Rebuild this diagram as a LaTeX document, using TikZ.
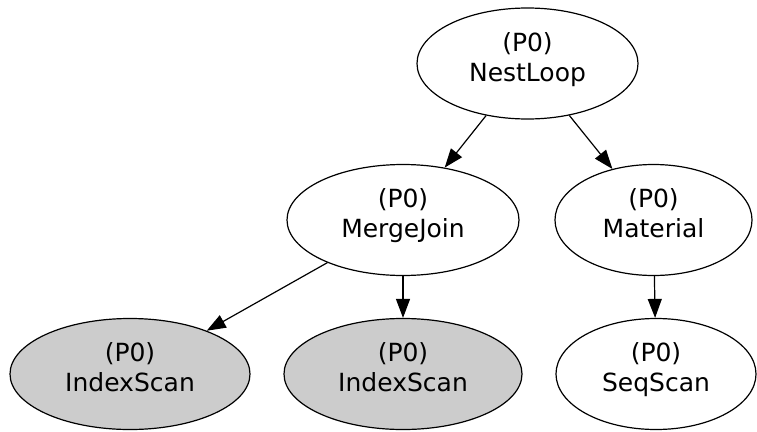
\documentclass[tikz,border=0pt]{standalone}
\usepackage{fontspec}
\setmainfont{DejaVu Sans}
\usepackage{tikz}
\usetikzlibrary{shapes.geometric, positioning, arrows.meta}
\definecolor{scangray}{RGB}{204,204,204}

\begin{document}
\begin{tikzpicture}[x=1pt,y=1pt,line width=1.2pt,on grid,
    >={Triangle[length=19pt,width=14pt]},
    op/.style={ellipse,draw,align=center,inner sep=0pt,minimum height=111pt,
      text depth=13pt,font=\fontsize{25}{30}\selectfont},
    scan/.style={op,fill=scangray}]
      \useasboundingbox (0,0) rectangle (757,-431);
      \node[op,minimum width=221pt] (nest) at (527.5,-63.5) {(P0)\\NestLoop};
      \node[op,minimum width=232pt] (merge) [below left=156.5pt and 124.5pt of nest] {(P0)\\MergeJoin};
      \node[op,minimum width=197pt] (mat) [right=250.5pt of merge] {(P0)\\Material};
      \node[scan,minimum width=240pt] (idx1) [below left=154pt and 273pt of merge] {(P0)\\IndexScan};
      \node[scan,minimum width=238pt] (idx2) [below=154pt of merge] {(P0)\\IndexScan};
      \node[op,minimum width=200pt] (seq) [right=253pt of idx2] {(P0)\\SeqScan};
      \path[->]
      (nest) edge (merge)
             edge (mat)
      (merge) edge (idx1)
              edge (idx2)
      (mat) edge (seq);
    \end{tikzpicture}
\end{document}
